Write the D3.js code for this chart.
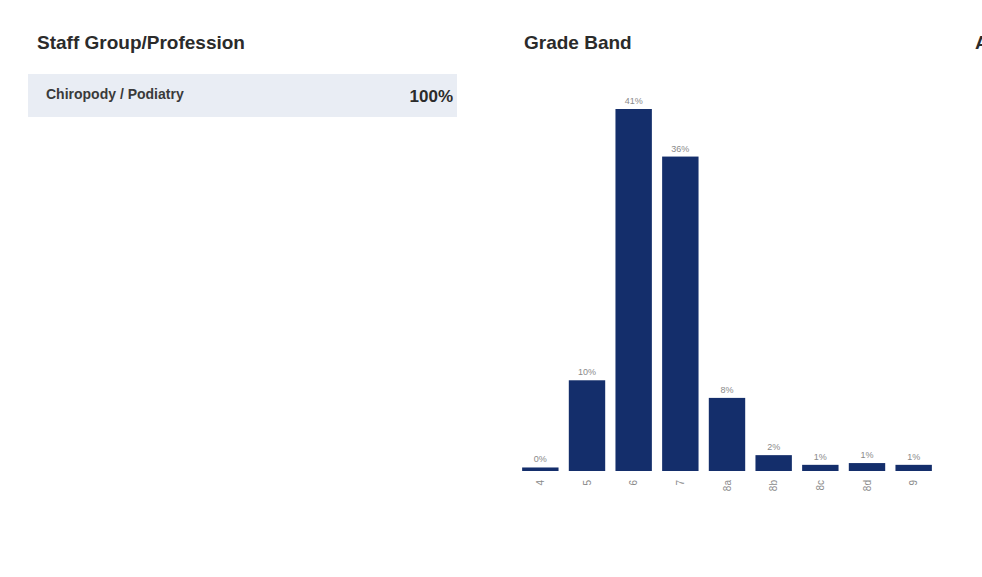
<!DOCTYPE html>
<meta charset="utf-8">
<html>
<head>
<script src="https://d3js.org/d3.v7.min.js" charset="utf-8"></script>
<style type="text/css">
    body { margin: 0; background: #fff; }
    svg text { font-family: "Liberation Sans", Arial, sans-serif; }
    .title { font-size: 19px; font-weight: bold; fill: #2b2b2b; }
    .val { font-size: 9px; fill: #8a8a8a; }
    .axis text { font-size: 10px; fill: #8a8a8a; }
</style>
</head>
<body>
<script type="text/javascript">

// staff group table
var groups = ["Chiropody / Podiatry"];
var groupShare = [100];

// grade band chart
var grades = ["4", "5", "6", "7", "8a", "8b", "8c", "8d", "9"];
var gradeShare = [0.4, 10.3, 41.1, 35.7, 8.3, 1.8, 0.7, 0.9, 0.7];

var canvas_width = 982;
var canvas_height = 577;

var svg = d3.select("body")
    .append("svg")
    .attr("width", canvas_width)
    .attr("height", canvas_height);

// panel titles (third panel is cut off by the page edge, as in the original)
svg.append("text").attr("class", "title").attr("x", 37).attr("y", 49).text("Staff Group/Profession");
svg.append("text").attr("class", "title").attr("x", 524).attr("y", 49).text("Grade Band");
svg.append("text").attr("class", "title").attr("x", 975).attr("y", 49).text("Age Band");

// staff group rows
var rowY = d3.scaleBand()
    .domain(groups)
    .range([74, 74 + 43 * groups.length]);

var rows = svg.selectAll(".row")
    .data(groups)
    .enter()
    .append("g")
    .attr("class", "row")
    .attr("transform", function(d) { return "translate(0," + rowY(d) + ")"; });

rows.append("rect")
    .attr("x", 28)
    .attr("width", 429)
    .attr("height", rowY.bandwidth())
    .attr("fill", "#e9edf4");

rows.append("text")
    .attr("x", 46)
    .attr("y", rowY.bandwidth() / 2 + 3)
    .attr("font-size", "14px")
    .attr("font-weight", "bold")
    .attr("fill", "#3a3a3a")
    .text(function(d) { return d; });

rows.append("text")
    .attr("x", 453)
    .attr("y", rowY.bandwidth() / 2 + 6)
    .attr("text-anchor", "end")
    .attr("font-size", "17px")
    .attr("font-weight", "bold")
    .attr("fill", "#2b2b2b")
    .text(function(d, i) { return groupShare[i] + "%"; });

// grade band bars
var baseY = 471;
var xScale = d3.scaleBand()
    .domain(grades)
    .range([517, 937])
    .paddingInner(0.22)
    .paddingOuter(0.11);

var yScale = d3.scaleLinear()
    .domain([0, 41.1])
    .range([baseY, 109]);

svg.selectAll(".bar")
    .data(gradeShare)
    .enter()
    .append("rect")
    .attr("class", "bar")
    .attr("x", function(d, i) { return xScale(grades[i]); })
    .attr("width", xScale.bandwidth())
    .attr("y", function(d) { return yScale(d); })
    .attr("height", function(d) { return baseY - yScale(d); })
    .attr("fill", "#142e6b");

svg.selectAll(".val")
    .data(gradeShare)
    .enter()
    .append("text")
    .attr("class", "val")
    .attr("text-anchor", "middle")
    .attr("x", function(d, i) { return xScale(grades[i]) + xScale.bandwidth() / 2; })
    .attr("y", function(d) { return yScale(d) - 5; })
    .text(function(d) { return Math.round(d) + "%"; });

var xAxis = d3.axisBottom(xScale).tickSize(0).tickPadding(6);

// tick labels read bottom-to-top
svg.append("g")
    .attr("class", "x axis")
    .attr("transform", "translate(0," + baseY + ")")
    .call(xAxis)
    .call(function(g) { g.select(".domain").remove(); })
    .selectAll("text")
    .attr("transform", "rotate(-90)")
    .attr("text-anchor", "end")
    .attr("dy", "0.35em")
    .attr("x", -9)
    .attr("y", 0);

</script>
</body>
</html>
